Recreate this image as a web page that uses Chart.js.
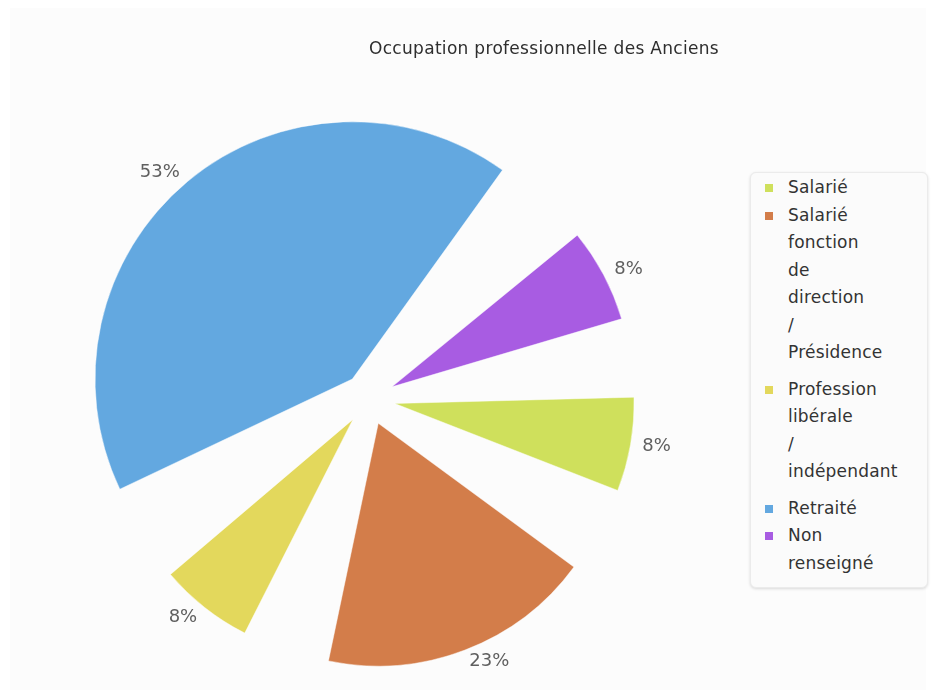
<!DOCTYPE html>
<html lang="fr">
<head>
<meta charset="utf-8">
<title>Occupation professionnelle des Anciens</title>
<script src="https://cdn.jsdelivr.net/npm/chart.js@4.4.0/dist/chart.umd.min.js"></script>
<style>
  html, body { margin: 0; padding: 0; background: #fff; overflow: hidden; }
  #wrap { position: relative; width: 936px; height: 698px; font-family: "DejaVu Sans", sans-serif; }
  #panel { position: absolute; left: 10px; top: 8px; width: 916px; height: 682px; background: #fcfcfc; }
  #chart { position: absolute; left: 0; top: 0; }
  #title {
    position: absolute; left: 344px; top: 38px; width: 400px;
    text-align: center; font-size: 17px; line-height: 20px; letter-spacing: 0.3px; color: #2e2e2e;
  }
  #legend {
    position: absolute; left: 750px; top: 172px; width: 178px; height: 416px;
    box-sizing: border-box; padding: 1px 0 0 14px;
    background: #fbfbfb; border: 1px solid #ebebeb; border-radius: 6px;
    box-shadow: 0 1px 3px rgba(0, 0, 0, 0.14);
    font-size: 17px; letter-spacing: 0.2px; color: #333;
  }
  .item { display: flex; align-items: flex-start; line-height: 27.5px; }
  .item.wrapped { margin-bottom: 9px; }
  .swatch { flex: none; width: 8px; height: 8px; margin: 10px 15px 0 0; }
  .text { white-space: nowrap; }
</style>
</head>
<body>
<div id="wrap">
  <div id="panel"></div>
  <canvas id="chart" width="738" height="698"></canvas>
  <div id="title">Occupation professionnelle des Anciens</div>
  <div id="legend"></div>
</div>
<script>
const categories = [
  'Salarié',
  'Salarié fonction de direction / Présidence',
  'Profession libérale / indépendant',
  'Retraité',
  'Non renseigné'
];
const shares = [8, 23, 8, 53, 8];
const sliceColors = ['#cfe05c', '#d37d4a', '#e3d85c', '#63a8e0', '#a85ce2'];

// angular gap between slices and how far each slice is pulled out
const GAP_DEG = 15;
const EXPLODE = 26;

// spread the slices with gaps, push each one out along its middle,
// and size it so its outer corners stay on the pie's full radius
const explode = {
  id: 'explode',
  afterDatasetUpdate(chart, args) {
    const arcs = args.meta.data;
    const values = chart.data.datasets[args.index].data;
    const total = values.reduce((s, v) => s + v, 0);
    const gap = GAP_DEG * Math.PI / 180;
    const sweep = 2 * Math.PI - gap * values.length;
    const area = chart.chartArea;
    const cx = (area.left + area.right) / 2;
    const cy = (area.top + area.bottom) / 2;
    let angle = arcs[0].startAngle;
    arcs.forEach((arc, i) => {
      const span = sweep * values[i] / total;
      const mid = angle + span / 2;
      const half = span / 2;
      const full = arc.outerRadius;
      arc.startAngle = angle;
      arc.endAngle = angle + span;
      arc.circumference = span;
      arc.x = cx + Math.cos(mid) * EXPLODE;
      arc.y = cy + Math.sin(mid) * EXPLODE;
      arc.outerRadius = -EXPLODE * Math.cos(half) +
        Math.sqrt(full * full - Math.pow(EXPLODE * Math.sin(half), 2));
      angle += span + gap;
    });
  }
};

const sliceLabels = {
  id: 'sliceLabels',
  afterDatasetsDraw(chart) {
    const ctx = chart.ctx;
    const meta = chart.getDatasetMeta(0);
    const values = chart.data.datasets[0].data;
    ctx.save();
    ctx.font = '18px "DejaVu Sans"';
    ctx.fillStyle = '#5f5f5f';
    ctx.textBaseline = 'middle';
    meta.data.forEach((arc, i) => {
      const mid = (arc.startAngle + arc.endAngle) / 2;
      const r = arc.outerRadius + 12;
      ctx.textAlign = Math.cos(mid) >= 0 ? 'left' : 'right';
      ctx.fillText(values[i] + '%', arc.x + Math.cos(mid) * r, arc.y + Math.sin(mid) * r);
    });
    ctx.restore();
  }
};

const chart = new Chart(document.getElementById('chart'), {
  type: 'pie',
  data: {
    labels: categories,
    datasets: [{
      data: shares,
      backgroundColor: sliceColors,
      borderColor: 'rgba(255,255,255,0.45)',
      borderWidth: 1
    }]
  },
  options: {
    responsive: false,
    animation: false,
    events: [],
    rotation: 88.5,
    radius: 265,
    layout: { padding: { top: 100 } },
    plugins: {
      legend: { display: false },
      tooltip: { enabled: false }
    }
  },
  plugins: [explode, sliceLabels]
});

// side legend, one word per line
const legendBox = document.getElementById('legend');
chart.data.labels.forEach((label, i) => {
  const words = label.split(' ');
  const item = document.createElement('div');
  item.className = 'item' + (words.length > 1 ? ' wrapped' : '');
  const sw = document.createElement('span');
  sw.className = 'swatch';
  sw.style.background = chart.data.datasets[0].backgroundColor[i];
  const txt = document.createElement('div');
  txt.className = 'text';
  words.forEach((w, k) => {
    if (k) txt.appendChild(document.createElement('br'));
    txt.appendChild(document.createTextNode(w));
  });
  item.appendChild(sw);
  item.appendChild(txt);
  legendBox.appendChild(item);
});
</script>
</body>
</html>
